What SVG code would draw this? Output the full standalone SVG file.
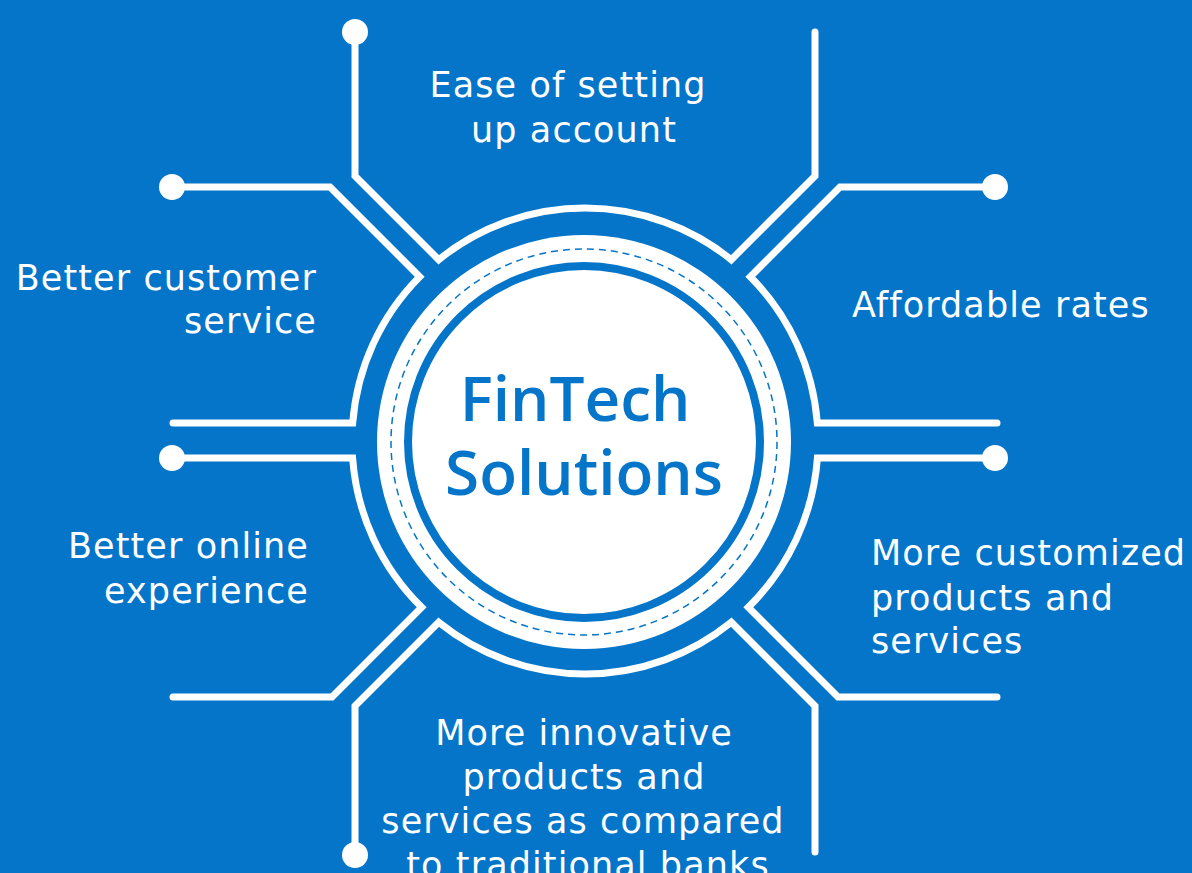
<svg xmlns="http://www.w3.org/2000/svg" width="1192" height="873" viewBox="0 0 1192 873">
<style>
.bg{fill:#0475c9}
.wire{fill:none;stroke:#fff;stroke-width:7;stroke-linecap:round;stroke-linejoin:miter;stroke-miterlimit:4}
.dot{fill:#fff}
.lbl{font-family:"DejaVu Sans",sans-serif;font-size:35px;fill:#fff;letter-spacing:1.1px}
.title{font-family:"Open Sans","DejaVu Sans",sans-serif;font-size:62px;font-weight:600;fill:#0475c9}
</style>
<rect class="bg" x="0" y="0" width="1192" height="873"/>
<g id="connectors">
<path class="wire" d="M355,32 V176 L438.7,259.7 A233,233 0 0 1 731.3,259.7 L815,176 V32"/>
<path class="wire" d="M172,187 H330 L419.7,276.7 A233,233 0 0 0 352.7,423 H173"/>
<path class="wire" d="M172,458 H352.6 A233,233 0 0 0 421.7,607.3 L332,697 H173"/>
<path class="wire" d="M355,855 V706 L438.7,622.3 A233,233 0 0 0 731.3,622.3 L815,706 V852"/>
<path class="wire" d="M995,187 H840 L750.3,276.7 A233,233 0 0 1 817.3,423 H997"/>
<path class="wire" d="M995,458 H817.4 A233,233 0 0 1 748.3,607.3 L838,697 H997"/>
<circle class="dot" cx="355" cy="32" r="13"/>
<circle class="dot" cx="172" cy="187" r="13"/>
<circle class="dot" cx="172" cy="458" r="13"/>
<circle class="dot" cx="355" cy="855" r="13"/>
<circle class="dot" cx="995" cy="187" r="13"/>
<circle class="dot" cx="995" cy="458" r="13"/>
</g>
<g id="center">
<circle cx="584" cy="442" r="207" fill="#fff"/>
<circle cx="584" cy="442" r="193" fill="none" stroke="#0475c9" stroke-width="1.5" stroke-dasharray="7 5"/>
<circle cx="584" cy="442" r="176" fill="#fff" stroke="#0475c9" stroke-width="8"/>
<text class="title" x="575" y="421" text-anchor="middle">FinTech</text>
<text class="title" x="584" y="495" text-anchor="middle">Solutions</text>
</g>
<g id="n-ease">
<text class="lbl" x="568" y="97" text-anchor="middle">Ease of setting</text>
<text class="lbl" x="574" y="142" text-anchor="middle">up account</text>
</g>
<g id="n-service">
<text class="lbl" x="317" y="290" text-anchor="end">Better customer</text>
<text class="lbl" x="317" y="333" text-anchor="end">service</text>
</g>
<g id="n-rates">
<text class="lbl" x="852" y="317">Affordable rates</text>
</g>
<g id="n-online">
<text class="lbl" x="309" y="558" text-anchor="end">Better online</text>
<text class="lbl" x="309" y="603" text-anchor="end">experience</text>
</g>
<g id="n-customized">
<text class="lbl" x="871" y="565">More customized</text>
<text class="lbl" x="871" y="610">products and</text>
<text class="lbl" x="871" y="653">services</text>
</g>
<g id="n-innovative">
<text class="lbl" x="584" y="745" text-anchor="middle">More innovative</text>
<text class="lbl" x="584" y="789" text-anchor="middle">products and</text>
<text class="lbl" x="583" y="833" text-anchor="middle">services as compared</text>
<text class="lbl" x="588" y="877" text-anchor="middle">to traditional banks</text>
</g>
</svg>
